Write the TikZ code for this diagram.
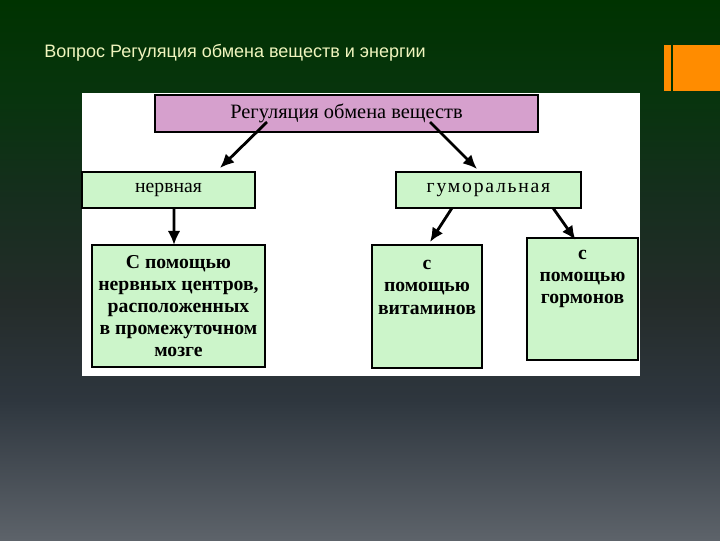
\documentclass[tikz,border=0pt]{standalone}
\usepackage{fontspec}
\setmainfont{Liberation Serif}
\newfontfamily\titlefont{Liberation Sans}
\usetikzlibrary{arrows.meta}

\definecolor{bgA}{RGB}{93,99,106}
\definecolor{bgB}{RGB}{46,54,62}
\definecolor{bgC}{RGB}{36,44,42}
\definecolor{bgD}{RGB}{22,46,30}
\definecolor{bgE}{RGB}{8,52,14}
\definecolor{bgF}{RGB}{0,51,0}
\definecolor{titleyellow}{RGB}{240,245,190}
\definecolor{slideorange}{RGB}{255,140,0}
\definecolor{boxpink}{RGB}{214,160,205}
\definecolor{boxgreen}{RGB}{204,245,202}

\pgfdeclareverticalshading{slidebg}{100bp}{color(0bp)=(bgA); color(25bp)=(bgA);
  color(38bp)=(bgB); color(47bp)=(bgC); color(56.5bp)=(bgD); color(65.7bp)=(bgE);
  color(75bp)=(bgF); color(100bp)=(bgF)}

\begin{document}
\begin{tikzpicture}[x=0.025cm, y=-0.025cm, >=Latex,
    box/.style={draw=black, line width=1.4pt, inner sep=0pt, outer sep=0pt, align=center},
    topbox/.style={box, fill=boxpink, font=\fontsize{14.5}{16}\selectfont},
    midbox/.style={box, fill=boxgreen, font=\fontsize{14}{16}\selectfont},
    leafbox/.style={box, fill=boxgreen, font=\bfseries\fontsize{14}{15.6}\selectfont},
    arr/.style={-{Latex[length=10pt,width=9pt]}, line width=2pt}]
    \useasboundingbox (0,0) rectangle (720,540);
    \shade[shading=slidebg] (0,0) rectangle (720,540);
    \node[anchor=base west, inner sep=0pt, text=titleyellow, font=\titlefont\fontsize{12.8}{14}\selectfont]
        (title) at (44,57) {Вопрос Регуляция обмена веществ и энергии};
    \fill[slideorange] (664,45) rectangle (720,91);
    \draw[line width=1.4pt, black!80!green] (672,45) -- (672,91);
    \fill[white] (82,93) rectangle (640,376);

    \node[topbox, minimum width=9.575cm, minimum height=0.925cm] (regul) at (346.5,113.5)
        {Регуляция обмена веществ};
    \node[midbox, minimum width=4.325cm, minimum height=0.9cm] (nerv) at (168.5,190) {нервная};
    \node[midbox, minimum width=4.625cm, minimum height=0.9cm] (gum) at (488.5,190)
        {\addfontfeature{LetterSpace=9}гуморальная};
    \node[leafbox, minimum width=4.325cm, minimum height=3.05cm] (centr) at (178.5,306)
        {С помощью\\нервных центров,\\расположенных\\в промежуточном\\мозге};
    \node[leafbox, minimum width=2.75cm, minimum height=3.075cm] (vit) at (427,306.5)
        {\parbox[c][2.325cm][t]{2.6cm}{\centering\baselineskip=16pt с\\помощью\\витаминов}};
    \node[leafbox, minimum width=2.775cm, minimum height=3.05cm] (horm) at (582.5,299)
        {\parbox[c][2.45cm][t]{2.6cm}{\centering с\\помощью\\гормонов}};

    \draw[arr] ([shift={(-79.5,8.5)}]regul.center) -- ([shift={(51.5,-4)}]nerv.north);
    \draw[arr] ([shift={(83.5,8.5)}]regul.center) -- ([shift={(-11.5,-3)}]gum.north);
    \draw[arr] ([xshift=5.5*0.025cm]nerv.south) -- ([xshift=-4.5*0.025cm]centr.north);
    \draw[arr] ([xshift=-36.5*0.025cm]gum.south) -- ([shift={(3,-3)}]vit.north);
    \draw[arr] ([xshift=64.5*0.025cm]gum.south) -- ([shift={(-7,2)}]horm.north);
\end{tikzpicture}
\end{document}
